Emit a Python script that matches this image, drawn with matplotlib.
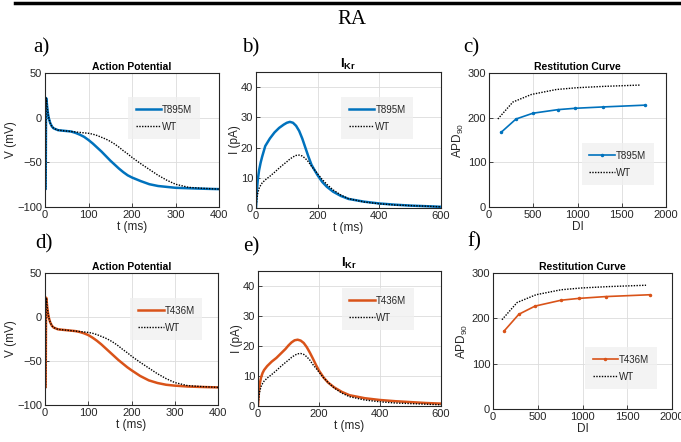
import matplotlib
matplotlib.use("Agg")
import matplotlib.pyplot as plt
from matplotlib.lines import Line2D

plt.rcParams['font.family'] = ['Liberation Sans', 'DejaVu Sans']
plt.rcParams['mathtext.fontset'] = 'custom'
plt.rcParams['mathtext.rm'] = 'Liberation Sans'
plt.rcParams['mathtext.bf'] = 'Liberation Sans:bold'
plt.rcParams['mathtext.it'] = 'Liberation Sans:italic'

# ---------------- data ----------------
ap_t = [0, 1.5, 2.5, 3.5, 5, 7, 9, 12, 16, 20, 30, 40, 50, 60, 70, 80, 90, 100,
        110, 120, 130, 140, 150, 160, 170, 180, 190, 200, 220, 240, 260, 280,
        300, 330, 360, 400]
ap_wt = [-80, -80, 22, 20, 12, 4, -1, -6, -10, -12, -14, -14.5, -15, -15.5,
         -16, -16.5, -17, -17.5, -18.5, -20, -22, -24, -26.5, -29.5, -33, -37,
         -40.5, -44.5, -51.5, -58, -64.5, -70, -74.5, -78, -79, -80]
ap_t895m = [-80, -80, 22, 20, 12, 4, -1, -6, -10, -12, -14, -14.5, -15, -15.5,
            -17, -19, -21.5, -25, -29, -33.5, -38, -43, -48, -52.5, -57, -61,
            -64.5, -67, -71, -74.5, -76.5, -77.5, -78.5, -79, -79.5, -80]
ap_t436m = [-80, -80, 22, 20, 12, 4, -1, -6, -10, -12, -14, -14.5, -15, -15.5,
            -16, -17, -18.5, -20.5, -23.5, -27, -31, -35.5, -40, -44.5, -49,
            -53, -57, -60.5, -67, -72, -75, -77, -78, -79, -79.5, -80]

ikr_t = [0, 3, 6, 10, 15, 20, 30, 45, 60, 75, 90, 100, 110, 120, 130, 140, 150,
         160, 170, 180, 190, 200, 215, 230, 250, 275, 300, 350, 400, 450, 500,
         550, 600]
ikr_wt = [0, 3, 5, 6.5, 7.5, 8.3, 9.3, 10.5, 11.8, 13.2, 14.5, 15.3, 16.2,
          16.9, 17.4, 17.5, 17.2, 16.4, 15.3, 13.8, 12.6, 11.3, 9.4, 7.8, 6.0,
          4.3, 3.1, 2.0, 1.4, 1.0, 0.8, 0.6, 0.4]
ikr_t895m = [0, 6, 9.5, 12.5, 15, 17, 20.5, 23, 25, 26.5, 27.6, 28.2, 28.5,
             28.2, 27.2, 25.5, 23, 20, 17, 14.3, 12.5, 10.8, 8.6, 7.0, 5.4, 4.0,
             3.0, 2.1, 1.5, 1.1, 0.8, 0.6, 0.4]
ikr_t436m = [0, 5, 7.5, 9.5, 11, 12, 13.3, 14.8, 16, 17.5, 19, 20.2, 21.2,
             21.9, 22.1, 21.8, 21, 19.6, 17.8, 15.8, 13.7, 11.8, 9.5, 7.8, 6.2,
             4.7, 3.6, 2.6, 2.0, 1.6, 1.3, 1.0, 0.8]

rc_di_wt = [100, 270, 480, 760, 990, 1290, 1710]
rc_apd_wt = [197, 235, 252, 263, 267, 270, 273]
rc_di_t895m = [136, 305, 497, 780, 972, 1288, 1760]
rc_apd_t895m = [167, 197, 210, 218, 221, 224, 228]
rc_di_t436m = [124, 289, 470, 762, 960, 1260, 1750]
rc_apd_t436m = [172, 209, 227, 240, 244, 248, 252]

BLUE = '#0072BD'
ORANGE = '#D95319'
TXT = '#262626'

W, H = 681, 442
fig = plt.figure(figsize=(W / 100, H / 100), dpi=100)


def ax_px(x0, x1, y0, y1):
    return fig.add_axes([x0 / W, 1 - y1 / H, (x1 - x0) / W, (y1 - y0) / H])


def style(ax, xlim, ylim, xticks, yticks):
    ax.set_xlim(*xlim)
    ax.set_ylim(*ylim)
    ax.set_xticks(xticks)
    ax.set_yticks(yticks)
    ax.grid(True, color='#dcdcdc', linewidth=0.6)
    ax.set_axisbelow(True)
    ax.tick_params(direction='in', length=3, width=0.6, labelsize=8,
                   colors=TXT, pad=2, top=False, right=False)
    for s in ax.spines.values():
        s.set_color('#262626')
        s.set_linewidth(0.8)


def legend(ax, handles, labels, anchor):
    lg = ax.legend(handles, labels, loc='upper right', bbox_to_anchor=anchor,
                   fontsize=7, frameon=True, fancybox=False, handlelength=2.6,
                   handletextpad=0.1, borderpad=0.8, labelspacing=0.7,
                   borderaxespad=0)
    lg.get_frame().set_facecolor('#f0f0f0')
    lg.get_frame().set_edgecolor('none')
    for t in lg.get_texts():
        t.set_color(TXT)
    return lg


def ap_panel(ax, mut, color, label, anchor):
    style(ax, (0, 400), (-100, 50), [0, 100, 200, 300, 400], [-100, -50, 0, 50])
    h1, = ax.plot(ap_t, mut, color=color, lw=1.8)
    h2, = ax.plot(ap_t, ap_wt, color='black', lw=1.0, ls=(0, (1, 1)))
    ax.set_title('Action Potential', fontsize=7.5, fontweight='bold', pad=2)
    ax.set_xlabel('t (ms)', fontsize=8.5, color=TXT, labelpad=1)
    ax.set_ylabel('V (mV)', fontsize=8.5, color=TXT, labelpad=0)
    legend(ax, [h1, h2], [label, 'WT'], anchor)


def ikr_panel(ax, mut, color, label, anchor):
    style(ax, (0, 600), (0, 45), [0, 200, 400, 600], [0, 10, 20, 30, 40])
    h1, = ax.plot(ikr_t, mut, color=color, lw=1.8)
    h2, = ax.plot(ikr_t, ikr_wt, color='black', lw=1.0, ls=(0, (1, 1)))
    ax.set_title(r'$\mathbf{I_{Kr}}$', fontsize=9.5, pad=2)
    ax.set_xlabel('t (ms)', fontsize=8.5, color=TXT, labelpad=1)
    ax.set_ylabel('I (pA)', fontsize=8.5, color=TXT, labelpad=0)
    legend(ax, [h1, h2], [label, 'WT'], anchor)


def rc_panel(ax, di, apd, color, label, anchor):
    style(ax, (0, 2000), (0, 300), [0, 500, 1000, 1500, 2000], [0, 100, 200, 300])
    h1, = ax.plot(di, apd, color=color, lw=1.2, marker='.', ms=3)
    h2, = ax.plot(rc_di_wt, rc_apd_wt, color='black', lw=1.0, ls=(0, (1, 1)))
    ax.set_title('Restitution Curve', fontsize=7.5, fontweight='bold', pad=2)
    ax.set_xlabel('DI', fontsize=8.5, color=TXT, labelpad=1)
    ax.set_ylabel(r'APD$_{90}$', fontsize=8.5, color=TXT, labelpad=1)
    legend(ax, [h1, h2], [label, 'WT'], anchor)


ax_a = ax_px(45, 219, 73, 207)
ap_panel(ax_a, ap_t895m, BLUE, 'T895M', (0.89, 0.82))
ax_b = ax_px(256, 441, 72, 208)
ikr_panel(ax_b, ikr_t895m, BLUE, 'T895M', (0.85, 0.816))
ax_c = ax_px(489, 666, 73, 207)
rc_panel(ax_c, rc_di_t895m, rc_apd_t895m, BLUE, 'T895M', (0.93, 0.478))

ax_d = ax_px(45, 218, 273, 405)
ap_panel(ax_d, ap_t436m, ORANGE, 'T436M', (0.91, 0.81))
ax_e = ax_px(258, 441, 271, 406)
ikr_panel(ax_e, ikr_t436m, ORANGE, 'T436M', (0.85, 0.874))
ax_f = ax_px(493, 672, 273, 409)
rc_panel(ax_f, rc_di_t436m, rc_apd_t436m, ORANGE, 'T436M', (0.916, 0.456))

# top rule and header
fig.add_artist(Line2D([15 / W, 1.0], [1 - 2.5 / H, 1 - 2.5 / H], color='black',
                      lw=2.5, transform=fig.transFigure))
serif = ['Liberation Serif', 'DejaVu Serif']
fig.text(352 / W, 1 - 19 / H, 'RA', family=serif, fontsize=15, ha='center',
         va='center')
for lab, x, y in [('a)', 33, 48), ('b)', 242, 48), ('c)', 463, 48),
                  ('d)', 35, 244), ('e)', 243, 247), ('f)', 467, 242)]:
    fig.text(x / W, 1 - y / H, lab, family=serif, fontsize=15, ha='left',
             va='center')

fig.savefig('out.png', dpi=100)
